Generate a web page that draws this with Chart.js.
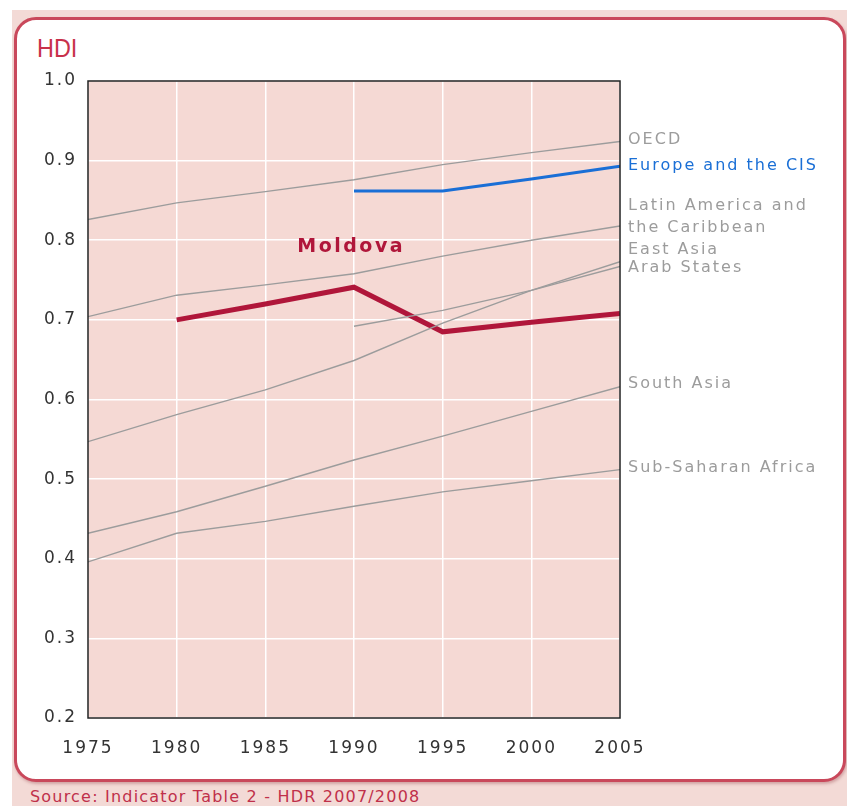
<!DOCTYPE html>
<html>
<head>
<meta charset="utf-8">
<script src="https://cdn.jsdelivr.net/npm/chart.js@4.4.1/dist/chart.umd.min.js"></script>
<style>
  html, body { margin: 0; padding: 0; background: #fff; }
  body { width: 847px; height: 806px; position: relative; overflow: hidden; }
  #fondo { position: absolute; left: 12px; top: 10px; width: 835px; height: 796px; background: #f3dad6; }
  #tarjeta {
    position: absolute; left: 14px; top: 17px; width: 826px; height: 759px;
    background: #fff; border: 3px solid #c9485b; border-radius: 22px;
    box-shadow: 1px 2px 3px rgba(150, 60, 70, 0.35);
  }
  #titulo { position: absolute; left: 37px; top: 33px; font-family: "Liberation Sans Narrow", "Liberation Sans", sans-serif; font-size: 26px; color: #c8314b; transform: scaleX(0.9); transform-origin: left; }
  #fuente { position: absolute; left: 30px; top: 787px; font-family: "DejaVu Sans", sans-serif; font-size: 16px; letter-spacing: 1.2px; color: #c0304a; }
  canvas { position: absolute; left: 0; top: 0; }
</style>
</head>
<body>
<div id="fondo"></div>
<div id="tarjeta"></div>
<div id="titulo">HDI</div>
<div id="fuente">Source: Indicator Table 2 - HDR 2007/2008</div>
<canvas id="grafico" width="847" height="806"></canvas>
<script>
// años y valores IDH
const anios = [1975, 1980, 1985, 1990, 1995, 2000, 2005];
const oecd         = [0.826, 0.847, 0.861, 0.876, 0.895, 0.910, 0.924];
const europaCis    = [null, null, null, 0.862, 0.862, 0.877, 0.893];
const latam        = [0.704, 0.731, 0.744, 0.758, 0.780, 0.800, 0.818];
const asiaEste     = [0.547, 0.581, 0.612, 0.649, 0.696, 0.737, 0.773];
const arabes       = [null, null, null, 0.692, 0.712, 0.737, 0.767];
const asiaSur      = [0.432, 0.459, 0.491, 0.524, 0.554, 0.585, 0.616];
const subsahariana = [0.396, 0.432, 0.447, 0.466, 0.484, 0.498, 0.512];
const moldova      = [null, 0.700, 0.720, 0.741, 0.685, 0.697, 0.708];

const ticksY = [0.2, 0.3, 0.4, 0.5, 0.6, 0.7, 0.8, 0.9, 1.0];

const gris = '#9c9c9c';
const azul = '#1a6fd6';
const rojo = '#b0163a';

function puntos(valores) {
    return anios.map((a, i) => ({ x: a, y: valores[i] }));
}

function serie(label, valores, color, ancho, nombre, dy) {
    return {
        label: label,
        data: puntos(valores),
        borderColor: color,
        borderWidth: ancho,
        pointRadius: 0,
        spanGaps: true,
        tension: 0,
        etiqueta: nombre,   // texto a la derecha (puede ser varias lineas)
        dy: dy
    };
}

const series = [
    serie('Sub-Saharan Africa', subsahariana, gris, 1.4, ['Sub-Saharan Africa'], -2),
    serie('South Asia', asiaSur, gris, 1.4, ['South Asia'], -3),
    serie('East Asia', asiaEste, gris, 1.4, ['East Asia'], -12),
    serie('Arab States', arabes, gris, 1.4, ['Arab States'], 1),
    serie('Latin America and the Caribbean', latam, gris, 1.4, ['Latin America and', 'the Caribbean'], -20),
    serie('OECD', oecd, gris, 1.4, ['OECD'], -2),
    serie('Europe and the CIS', europaCis, azul, 3, ['Europe and the CIS'], 0),
    serie('Moldova', moldova, rojo, 5, null, 0)
];

const etiquetas = {
    id: 'etiquetas',
    beforeDraw(chart) {
        const ctx = chart.ctx;
        const a = chart.chartArea;
        ctx.save();
        ctx.fillStyle = '#f5d9d4';
        ctx.fillRect(a.left, a.top, a.right - a.left, a.bottom - a.top);
        ctx.restore();
        ctx.letterSpacing = '2px';
    },
    afterDatasetsDraw(chart) {
        const ctx = chart.ctx;
        const a = chart.chartArea;
        const x = chart.scales.x, y = chart.scales.y;

        // marco negro del area
        ctx.save();
        ctx.strokeStyle = '#222';
        ctx.lineWidth = 1.5;
        ctx.strokeRect(a.left, a.top, a.right - a.left, a.bottom - a.top);
        ctx.restore();

        ctx.save();
        ctx.letterSpacing = '2px';
        ctx.font = '16px "DejaVu Sans", Verdana, sans-serif';
        ctx.textAlign = 'left';
        ctx.textBaseline = 'middle';
        chart.data.datasets.forEach(ds => {
            if (!ds.etiqueta) return;
            const ult = ds.data[ds.data.length - 1];
            const py = y.getPixelForValue(ult.y) + ds.dy;
            ctx.fillStyle = ds.borderColor;
            ds.etiqueta.forEach((t, i) => ctx.fillText(t, a.right + 8, py + i * 22));
        });

        ctx.letterSpacing = '2.5px';
        ctx.font = 'bold 19px "DejaVu Sans", Verdana, sans-serif';
        ctx.fillStyle = rojo;
        ctx.fillText('Moldova', x.getPixelForValue(1986.8), y.getPixelForValue(0.792));
        ctx.restore();
    }
};

new Chart(document.getElementById('grafico'), {
    type: 'line',
    data: { datasets: series },
    plugins: [etiquetas],
    options: {
        responsive: false,
        animation: false,
        layout: { padding: { top: 81, right: 227, bottom: 38, left: 0 } },
        plugins: {
            legend: { display: false },
            tooltip: { enabled: false },
            title: { display: false }
        },
        scales: {
            x: {
                type: 'linear',
                min: 1975,
                max: 2005,
                afterFit: ax => { ax.height = 50; },
                afterBuildTicks: ax => { ax.ticks = anios.map(v => ({ value: v })); },
                ticks: {
                    callback: v => String(v),
                    color: '#333',
                    padding: 20,
                    maxRotation: 0,
                    font: { family: '"DejaVu Sans", Verdana, sans-serif', size: 17 }
                },
                grid: { color: '#ffffff', lineWidth: 1.5, drawTicks: false },
                border: { display: false }
            },
            y: {
                min: 0.2,
                max: 1.0,
                afterFit: ax => { ax.width = 88; },
                afterBuildTicks: ax => { ax.ticks = ticksY.map(v => ({ value: v })); },
                ticks: {
                    callback: v => v.toFixed(1),
                    color: '#333',
                    padding: 11,
                    font: { family: '"DejaVu Sans", Verdana, sans-serif', size: 17 }
                },
                grid: { color: '#ffffff', lineWidth: 1.5, drawTicks: false },
                border: { display: false }
            }
        }
    }
});
</script>
</body>
</html>
